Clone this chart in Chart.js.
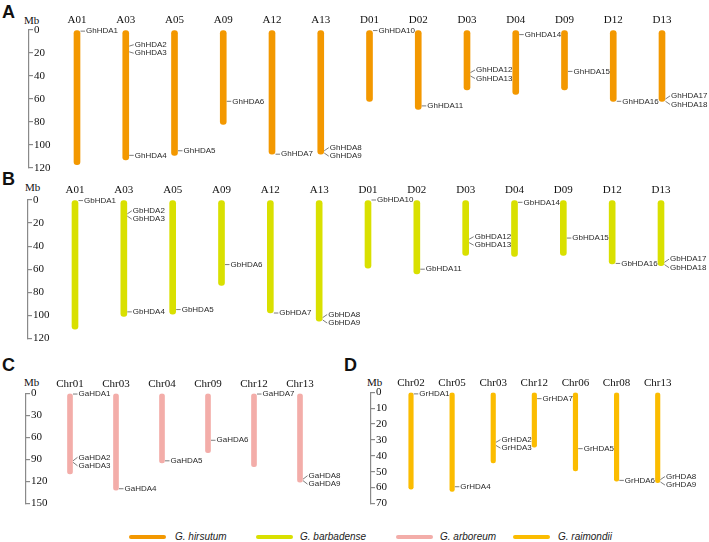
<!DOCTYPE html>
<html>
<head>
<meta charset="utf-8">
<script src="https://cdn.jsdelivr.net/npm/chart.js@4.4.1/dist/chart.umd.min.js"></script>
<style>
  body { margin: 0; background: #fff; width: 709px; height: 542px; position: relative; overflow: hidden; }
  canvas { position: absolute; }
  .tag { position: absolute; font: bold 18px "Liberation Sans", Arial, sans-serif; line-height: 18px; color: #111; }
  .mb { position: absolute; font: 11px "Liberation Serif", serif; line-height: 11px; color: #111; }
  .line { position: absolute; height: 3.5px; width: 37px; border-radius: 2px; top: 535px; }
  .lab { position: absolute; top: 531px; font: italic 10px "Liberation Sans", Arial, sans-serif; line-height: 12px; color: #222; }
</style>
</head>
<body>
<div class="tag" style="left:2px;top:3px">A</div>
<div class="tag" style="left:2px;top:170px">B</div>
<div class="tag" style="left:2px;top:356px">C</div>
<div class="tag" style="left:344px;top:356px">D</div>
<div class="mb" style="left:24px;top:15px">Mb</div>
<div class="mb" style="left:25px;top:182px">Mb</div>
<div class="mb" style="left:24px;top:377px">Mb</div>
<div class="mb" style="left:367px;top:377px">Mb</div>

<canvas id="chartA" width="709" height="180" style="left:0;top:0"></canvas>
<canvas id="chartB" width="709" height="180" style="left:0;top:170px"></canvas>
<canvas id="chartC" width="350" height="165" style="left:0;top:350px"></canvas>
<canvas id="chartD" width="359" height="165" style="left:350px;top:350px"></canvas>

<div class="line" style="left:129px;background:#F39800"></div><div class="lab" style="left:175px">G. hirsutum</div>
<div class="line" style="left:256px;background:#D9E000"></div><div class="lab" style="left:300px">G. barbadense</div>
<div class="line" style="left:396px;background:#F3ADA9"></div><div class="lab" style="left:440px">G. arboreum</div>
<div class="line" style="left:513px;background:#FBBC00"></div><div class="lab" style="left:558px">G. raimondii</div>

<script>
// G. hirsutum (A)
const hirChr = ['A01','A03','A05','A09','A12','A13','D01','D02','D03','D04','D09','D12','D13'];
const hirLen = [117, 113, 109, 82, 108, 108, 62, 69, 52, 56, 52, 62, 62];
const hirGene = ['GhHDA1','GhHDA2','GhHDA3','GhHDA4','GhHDA5','GhHDA6','GhHDA7','GhHDA8','GhHDA9',
  'GhHDA10','GhHDA11','GhHDA12','GhHDA13','GhHDA14','GhHDA15','GhHDA16','GhHDA17','GhHDA18'];
const hirGeneChr = ['A01','A03','A03','A03','A05','A09','A12','A13','A13',
  'D01','D02','D03','D03','D04','D09','D12','D13','D13'];
const hirGenePos = [1, 14, 19, 109, 105, 62, 108, 105, 107, 0.5, 66, 37, 40, 4, 36, 62, 60, 62];
const hirTicks = [0, 20, 40, 60, 80, 100, 120];

// G. barbadense (B)
const barChr = ['A01','A03','A05','A09','A12','A13','D01','D02','D03','D04','D09','D12','D13'];
const barLen = [112, 101, 99, 74, 98, 105, 59, 64, 48, 49, 48, 55.5, 57];
const barGene = ['GbHDA1','GbHDA2','GbHDA3','GbHDA4','GbHDA5','GbHDA6','GbHDA7','GbHDA8','GbHDA9',
  'GbHDA10','GbHDA11','GbHDA12','GbHDA13','GbHDA14','GbHDA15','GbHDA16','GbHDA17','GbHDA18'];
const barGeneChr = ['A01','A03','A03','A03','A05','A09','A12','A13','A13',
  'D01','D02','D03','D03','D04','D09','D12','D13','D13'];
const barGenePos = [0.5, 12, 14, 97, 95, 56, 98, 102, 104, 0, 60, 34, 37, 2, 33, 55, 54, 56];
const barTicks = [0, 20, 40, 60, 80, 100, 120];

// G. arboreum (C)
const arbChr = ['Chr01','Chr03','Chr04','Chr09','Chr12','Chr13'];
const arbLen = [110, 132, 95, 81, 100, 121];
const arbGene = ['GaHDA1','GaHDA2','GaHDA3','GaHDA4','GaHDA5','GaHDA6','GaHDA7','GaHDA8','GaHDA9'];
const arbGeneChr = ['Chr01','Chr01','Chr01','Chr03','Chr04','Chr09','Chr12','Chr13','Chr13'];
const arbGenePos = [1, 92, 94, 130, 92, 64, 1, 117, 119];
const arbTicks = [0, 30, 60, 90, 120, 150];

// G. raimondii (D)
const raiChr = ['Chr02','Chr05','Chr03','Chr12','Chr06','Chr08','Chr13'];
const raiLen = [61, 62.5, 44.5, 34.5, 49.5, 56, 57];
const raiGene = ['GrHDA1','GrHDA2','GrHDA3','GrHDA4','GrHDA5','GrHDA6','GrHDA7','GrHDA8','GrHDA9'];
const raiGeneChr = ['Chr02','Chr03','Chr03','Chr05','Chr06','Chr08','Chr12','Chr13','Chr13'];
const raiGenePos = [1, 31.5, 33.5, 59.5, 35.5, 55.5, 4, 55, 56.5];
const raiTicks = [0, 10, 20, 30, 40, 50, 60, 70];

const serif = '"Liberation Serif", "Times New Roman", serif';
const sans = '"Liberation Sans", Arial, sans-serif';

// gene names with leader lines, labels pushed apart when too close
const geneLabels = {
  id: 'geneLabels',
  afterDatasetsDraw(chart) {
    const ds = chart.data.datasets[1];
    const meta = chart.getDatasetMeta(1);
    const bw = chart.data.datasets[0].barThickness;
    const groups = {};
    meta.data.forEach((pt, i) => {
      const raw = ds.data[i];
      (groups[raw.x] = groups[raw.x] || []).push({ x: pt.x, y: pt.y, name: raw.name });
    });
    const ctx = chart.ctx;
    ctx.save();
    ctx.font = '8px ' + sans;
    ctx.textBaseline = 'middle';
    ctx.fillStyle = '#2a2a2a';
    ctx.strokeStyle = '#444';
    ctx.lineWidth = 0.7;
    const gap = 8.5;
    Object.values(groups).forEach(list => {
      list.sort((a, b) => a.y - b.y);
      const clusters = [];
      list.forEach(p => {
        const last = clusters[clusters.length - 1];
        if (last && p.y - last[last.length - 1].y < gap) last.push(p);
        else clusters.push([p]);
      });
      clusters.forEach(c => {
        const mean = c.reduce((s, p) => s + p.y, 0) / c.length;
        c.forEach((p, j) => { p.ly = mean + (j - (c.length - 1) / 2) * gap; });
      });
      list.forEach(p => {
        const x0 = p.x + bw / 2 + 0.5;
        const tx = p.x + bw / 2 + 6;
        ctx.beginPath();
        ctx.moveTo(x0, p.y);
        ctx.lineTo(tx - 1, p.ly);
        ctx.stroke();
        ctx.fillText(p.name, tx, p.ly);
      });
    });
    ctx.restore();
  }
};

function makePanel(id, chr, len, gene, geneChr, genePos, ticks, color, g) {
  const canvas = document.getElementById(id);
  const W = canvas.width, H = canvas.height;
  const step = (g.lastX - g.firstX) / (chr.length - 1);
  const xmin = -(g.firstX - g.axisX) / step;
  const xmax = (chr.length - 1) + (g.right - g.lastX) / step;
  const topAxis = 18;

  new Chart(canvas.getContext('2d'), {
    type: 'bar',
    data: {
      datasets: [
        {
          type: 'bar',
          data: chr.map((c, i) => ({ x: i, y: [0, len[i]] })),
          backgroundColor: color,
          barThickness: g.bw,
          borderRadius: g.bw / 2,
          borderSkipped: false
        },
        {
          type: 'scatter',
          data: gene.map((n, i) => ({ x: chr.indexOf(geneChr[i]), y: genePos[i], name: n })),
          pointRadius: 0,
          pointHoverRadius: 0
        }
      ]
    },
    options: {
      responsive: false,
      animation: false,
      events: [],
      layout: { padding: { left: g.axisX, right: W - g.right, top: g.top - topAxis, bottom: H - g.bottom } },
      plugins: { legend: { display: false }, tooltip: { enabled: false } },
      scales: {
        x: {
          type: 'linear',
          position: 'top',
          offset: false,
          min: xmin,
          max: xmax,
          grid: { display: false, drawTicks: false, offset: false },
          border: { display: false },
          ticks: {
            stepSize: 1,
            autoSkip: false,
            includeBounds: false,
            maxRotation: 0,
            padding: 3,
            color: '#111',
            font: { family: serif, size: 11 },
            callback: v => (Number.isInteger(v) && chr[v]) ? chr[v] : ''
          },
          afterFit: s => { s.height = topAxis; }
        },
        y: {
          type: 'linear',
          position: 'left',
          reverse: true,
          min: 0,
          max: ticks[ticks.length - 1],
          afterBuildTicks: s => { s.ticks = ticks.map(v => ({ value: v })); },
          grid: { drawOnChartArea: false, drawTicks: true, tickLength: -4, color: '#8a8a8a', lineWidth: 1.2 },
          border: { display: true, color: '#8a8a8a', width: 1.2 },
          ticks: { mirror: true, autoSkip: false, padding: 5, color: '#111', font: { family: serif, size: 11 } },
          afterFit: s => { s.width = 0; }
        }
      }
    },
    plugins: [geneLabels]
  });
}

makePanel('chartA', hirChr, hirLen, hirGene, hirGeneChr, hirGenePos, hirTicks, '#F39800',
  { axisX: 29, right: 694, firstX: 77, lastX: 662, top: 30, bottom: 168, bw: 6 });
makePanel('chartB', barChr, barLen, barGene, barGeneChr, barGenePos, barTicks, '#D9E000',
  { axisX: 28, right: 694, firstX: 75, lastX: 661, top: 30, bottom: 172.8, bw: 6 });
makePanel('chartC', arbChr, arbLen, arbGene, arbGeneChr, arbGenePos, arbTicks, '#F3ADA9',
  { axisX: 26, right: 340, firstX: 70, lastX: 300, top: 43.3, bottom: 155, bw: 5 });
makePanel('chartD', raiChr, raiLen, raiGene, raiGeneChr, raiGenePos, raiTicks, '#FBBC00',
  { axisX: 21, right: 349, firstX: 61, lastX: 307.7, top: 42.3, bottom: 154.3, bw: 4.5 });
</script>
</body>
</html>
